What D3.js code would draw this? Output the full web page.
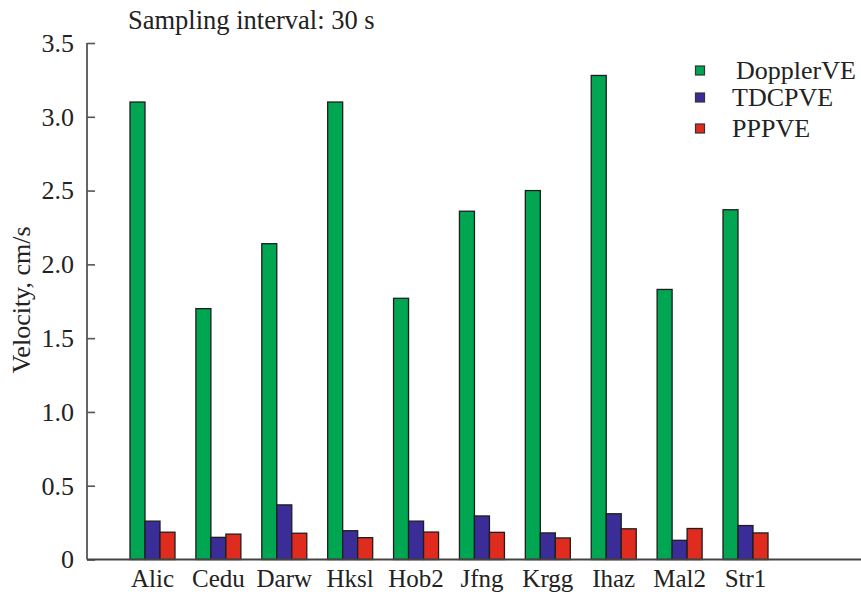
<!DOCTYPE html>
<html>
<head>
<meta charset="utf-8">
<script src="https://cdn.jsdelivr.net/npm/d3@7"></script>
<style>
  html, body { margin: 0; padding: 0; background: #fff; }
  svg { display: block; font-family: "Liberation Serif", "Times New Roman", serif; }
</style>
</head>
<body>
<svg id="chart" width="861" height="594"></svg>
<script>
// Stations and per-station velocity estimates (cm/s)
const stations = ["Alic", "Cedu", "Darw", "Hksl", "Hob2", "Jfng", "Krgg", "Ihaz", "Mal2", "Str1"];
const dopplerVE = [3.10, 1.70, 2.14, 3.10, 1.77, 2.36, 2.50, 3.28, 1.83, 2.37];
const tdcpVE    = [0.26, 0.15, 0.37, 0.195, 0.26, 0.295, 0.18, 0.31, 0.13, 0.23];
const pppVE     = [0.185, 0.172, 0.178, 0.148, 0.186, 0.184, 0.146, 0.208, 0.21, 0.18];
const seriesNames = ["DopplerVE", "TDCPVE", "PPPVE"];
const yTicks = [0, 0.5, 1.0, 1.5, 2.0, 2.5, 3.0, 3.5];
const tickLabels = ["0", "0.5", "1.0", "1.5", "2.0", "2.5", "3.0", "3.5"];

const colors = ["#00a651", "#3b2d97", "#e02b1f"];
const seriesValues = [dopplerVE, tdcpVE, pppVE];

const svg = d3.select("#chart");
const axisX = 87, axisBottom = 559.5, axisTop = 43, axisRight = 861;

const y = d3.scaleLinear().domain([0, 3.5]).range([axisBottom, axisTop]);
const x = d3.scaleBand().domain(stations).range([130, 768]).paddingInner(0.317).paddingOuter(0);
const xs = d3.scaleBand().domain(seriesNames).range([0, x.bandwidth()]);

// Bars
const groups = svg.append("g").selectAll("g")
  .data(stations)
  .join("g")
  .attr("transform", d => `translate(${x(d)},0)`);

groups.selectAll("rect")
  .data((d, i) => seriesNames.map((s, k) => ({ s, k, v: seriesValues[k][i] })))
  .join("rect")
  .attr("x", d => xs(d.s))
  .attr("width", xs.bandwidth())
  .attr("y", d => y(d.v))
  .attr("height", d => y(0) - y(d.v))
  .attr("fill", d => colors[d.k])
  .attr("stroke", "#1e1e1e")
  .attr("stroke-width", 1.3);

// Y axis with inward ticks
const yAxis = d3.axisRight(y)
  .tickValues(yTicks)
  .tickSize(8)
  .tickFormat("");
const gy = svg.append("g").attr("transform", `translate(${axisX},0)`).call(yAxis);
gy.select(".domain").remove();
gy.selectAll(".tick line").attr("stroke", "#555").attr("stroke-width", 1.6);
svg.append("line")
  .attr("x1", axisX).attr("x2", axisX)
  .attr("y1", axisTop).attr("y2", axisBottom)
  .attr("stroke", "#555").attr("stroke-width", 1.8);

svg.append("g").selectAll("text")
  .data(yTicks)
  .join("text")
  .attr("x", 74)
  .attr("y", d => y(d))
  .attr("dy", "0.34em")
  .attr("text-anchor", "end")
  .attr("font-size", 26)
  .attr("fill", "#222")
  .text((d, i) => tickLabels[i]);

// X axis baseline
svg.append("line")
  .attr("x1", axisX).attr("x2", axisRight)
  .attr("y1", axisBottom).attr("y2", axisBottom)
  .attr("stroke", "#444").attr("stroke-width", 1.8);

// Category labels
svg.append("g").selectAll("text")
  .data(stations)
  .join("text")
  .attr("x", d => x(d) + x.bandwidth() / 2)
  .attr("y", 587)
  .attr("text-anchor", "middle")
  .attr("font-size", 25)
  .attr("fill", "#222")
  .text(d => d);

// Y axis title
svg.append("text")
  .attr("transform", "translate(30,300) rotate(-90)")
  .attr("text-anchor", "middle")
  .attr("font-size", 26)
  .attr("fill", "#222")
  .text("Velocity, cm/s");

// Chart title
svg.append("text")
  .attr("x", 128)
  .attr("y", 29)
  .attr("font-size", 26.5)
  .attr("fill", "#222")
  .text("Sampling interval: 30 s");

// Legend
const legendY = [70.5, 97.5, 128.5];
const legendTextX = [736, 732, 732];
const legend = svg.append("g").selectAll("g")
  .data(seriesNames)
  .join("g");
legend.append("rect")
  .attr("x", 695.5)
  .attr("y", (d, i) => legendY[i] - 4.5)
  .attr("width", 9)
  .attr("height", 9)
  .attr("fill", (d, i) => colors[i])
  .attr("stroke", "#333")
  .attr("stroke-width", 1.2);
legend.append("text")
  .attr("x", (d, i) => legendTextX[i])
  .attr("y", (d, i) => legendY[i])
  .attr("dy", "0.33em")
  .attr("font-size", 26)
  .attr("fill", "#222")
  .text(d => d);
</script>
</body>
</html>
